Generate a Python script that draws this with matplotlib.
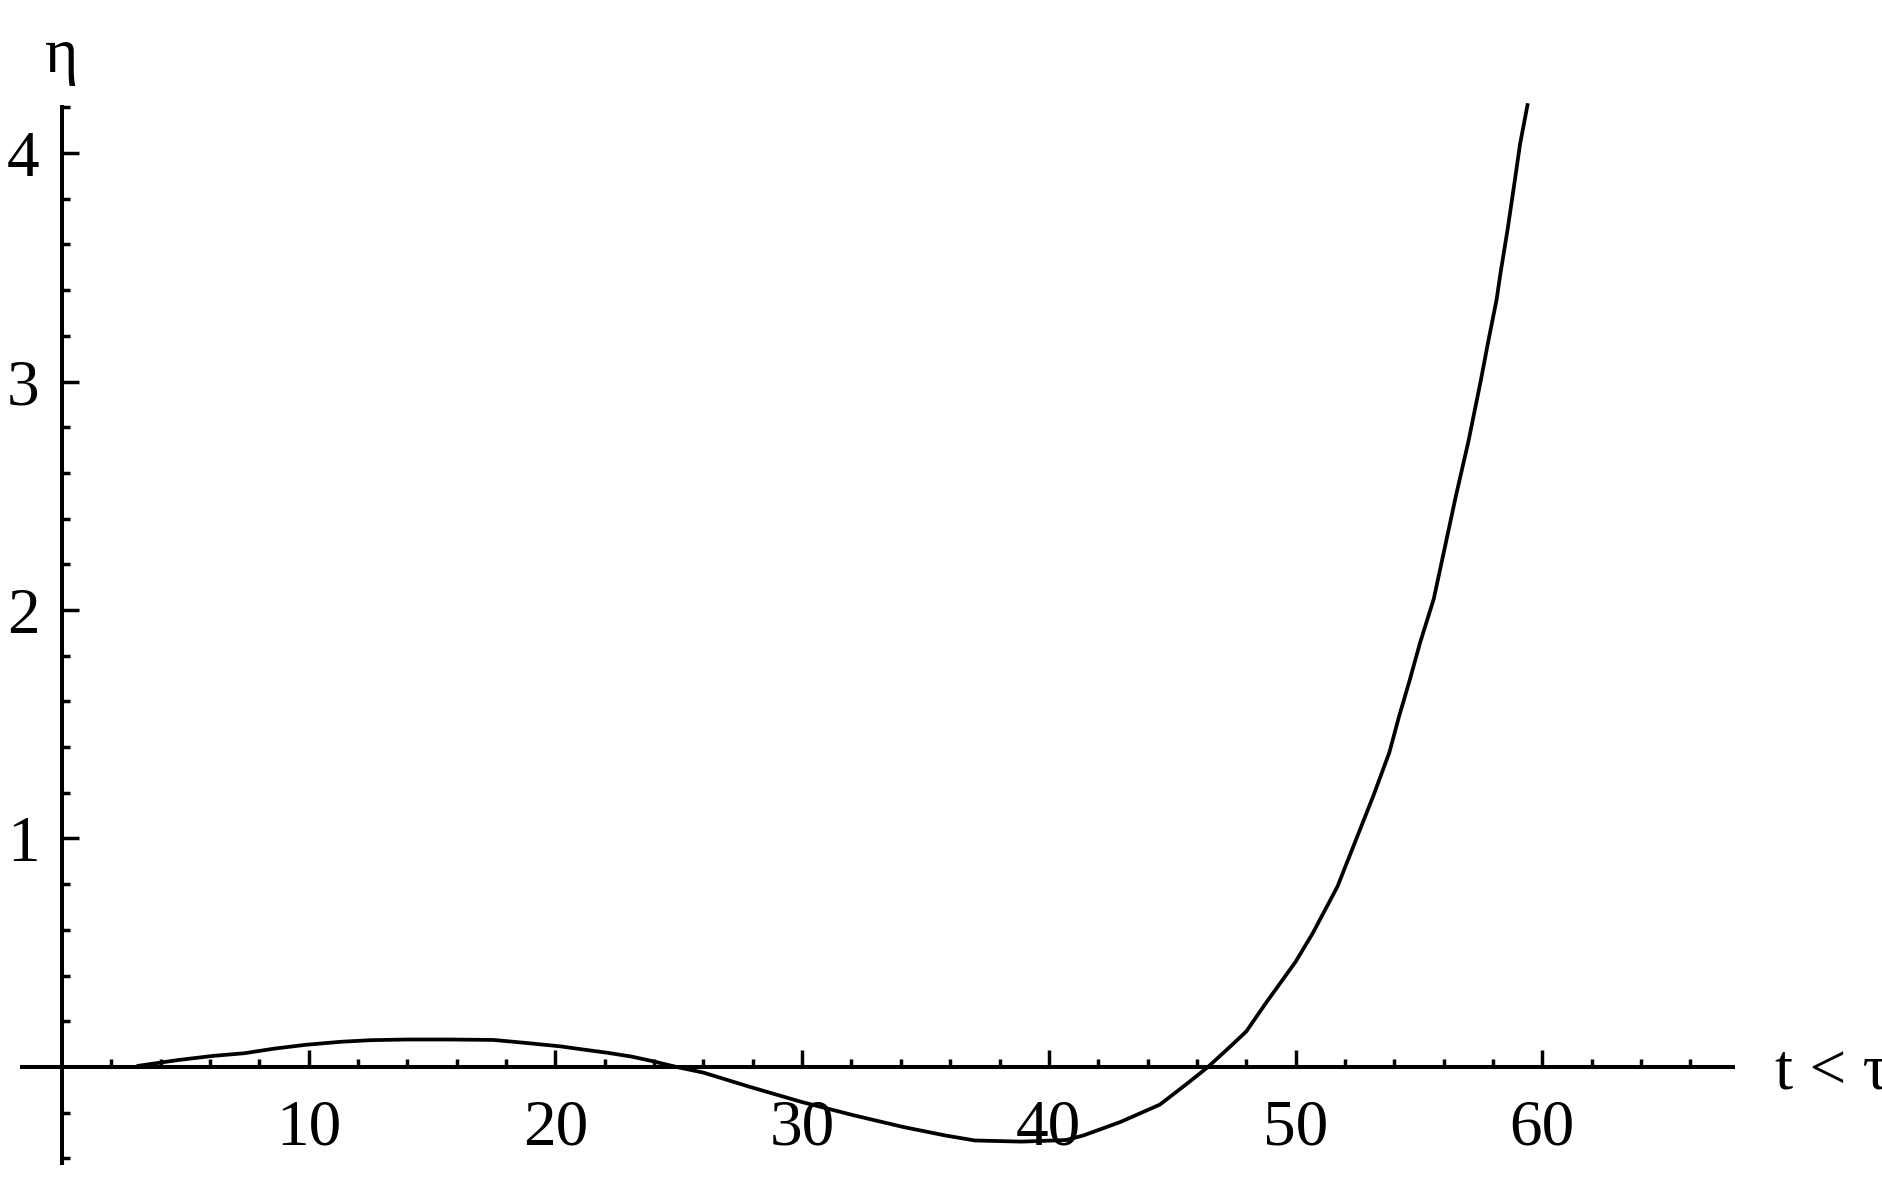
import numpy as np
import matplotlib
matplotlib.use("Agg")
import matplotlib.pyplot as plt
from matplotlib.ticker import FixedLocator

# values
t_vals = [3.1, 4.7, 6.1, 7.4, 8.6, 9.9, 11.3, 12.5, 14.0, 15.7, 17.5, 18.9,
          20.2, 21.2, 22.1, 23.1, 23.9, 24.9, 26.0, 27.9, 30.0, 32.1, 34.1,
          35.8, 37.0, 38.9, 40.7, 41.4, 42.9, 44.5, 45.7, 46.45, 47.35, 48.0,
          48.8, 50.0, 50.7, 51.7, 53.15, 53.8, 54.2, 54.6, 55.05, 55.6, 56.5,
          57.0, 57.5, 57.8, 58.15, 58.3, 58.6, 58.9, 59.1, 59.4]
eta_vals = [0.005, 0.03, 0.048, 0.06, 0.08, 0.097, 0.11, 0.117, 0.12, 0.12,
            0.118, 0.104, 0.09, 0.075, 0.062, 0.045, 0.026, 0.0, -0.025,
            -0.088, -0.154, -0.212, -0.263, -0.30, -0.322, -0.327, -0.32,
            -0.30, -0.241, -0.165, -0.065, 0.0, 0.089, 0.155, 0.28, 0.46,
            0.586, 0.79, 1.186, 1.376, 1.536, 1.683, 1.858, 2.048, 2.50,
            2.735, 3.0, 3.17, 3.36, 3.47, 3.67, 3.89, 4.04, 4.21]

x_major = [10, 20, 30, 40, 50, 60]
x_minor = [v for v in range(2, 67, 2) if v % 10 != 0]
y_major = [1, 2, 3, 4]
y_minor = [round(v, 1) for v in np.arange(-0.4, 4.21, 0.2)
           if abs(v - round(v)) > 1e-6]

plt.rcParams['font.family'] = ['Liberation Serif', 'DejaVu Serif']

fig = plt.figure(figsize=(18.83, 11.88), dpi=100)
ax = fig.add_axes([0, 0, 1, 1])
ax.set_xlim(-2.513, 73.81)
ax.set_ylim(-0.53, 4.67)

ax.plot(t_vals, eta_vals, color='black', lw=2.7, solid_joinstyle='round')

for s in ['top', 'right']:
    ax.spines[s].set_visible(False)
ax.spines['left'].set_position(('data', 0))
ax.spines['bottom'].set_position(('data', 0))
ax.spines['left'].set_bounds(-0.43, 4.21)
ax.spines['bottom'].set_bounds(-1.7, 67.8)
for s in ['left', 'bottom']:
    ax.spines[s].set_linewidth(2.9)
    ax.spines[s].set_capstyle('butt')

ax.xaxis.set_major_locator(FixedLocator(x_major))
ax.xaxis.set_minor_locator(FixedLocator(x_minor))
ax.yaxis.set_major_locator(FixedLocator(y_major))
ax.yaxis.set_minor_locator(FixedLocator(y_minor))
ax.set_xticklabels([str(v) for v in x_major])
ax.set_yticklabels([str(v) for v in y_major])

ax.tick_params(which='both', direction='in', width=2.5, colors='black')
ax.tick_params(which='major', length=12, labelsize=47)
ax.tick_params(which='minor', length=5.5)
ax.tick_params(axis='x', which='major', pad=23)
ax.tick_params(axis='y', which='major', pad=16)

ax.text(0, 4.42, 'η', fontsize=46, ha='center', va='center')
# the reference cuts the τ off at the right edge
ax.text(69.45, 0, 't < τ', fontsize=47, ha='left', va='center_baseline')

fig.savefig('out.png', dpi=100)
